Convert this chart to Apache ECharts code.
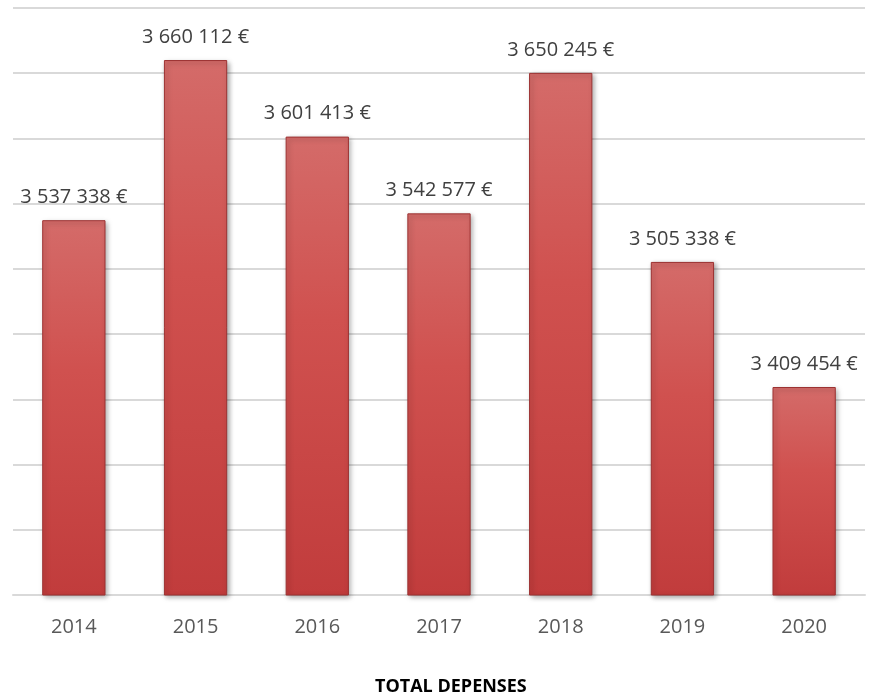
<!DOCTYPE html>
<html>
<head>
<meta charset="utf-8">
<script src="https://cdn.jsdelivr.net/npm/echarts@6/dist/echarts.min.js"></script>
<style>
  html, body { margin: 0; padding: 0; background: #fff; }
  #chart { width: 879px; height: 700px; }
</style>
</head>
<body>
<div id="chart"></div>
<script>
const years = ['2014', '2015', '2016', '2017', '2018', '2019', '2020']
const totals = [3537338, 3660112, 3601413, 3542577, 3650245, 3505338, 3409454]

function euro(v) {
  return String(v).replace(/\B(?=(\d{3})+(?!\d))/g, ' ') + ' €'
}

const chart = echarts.init(document.getElementById('chart'))
chart.setOption({
  animation: false,
  textStyle: { fontFamily: 'Open Sans' },
  title: {
    text: 'TOTAL DEPENSES',
    left: 375,
    top: 678,
    padding: 0,
    textStyle: { fontSize: 18, fontWeight: 'bold', color: '#000' }
  },
  grid: { left: 13, right: 14, top: 8, bottom: 105 },
  xAxis: {
    type: 'category',
    data: years,
    axisLine: { lineStyle: { color: '#d9d9d9', width: 2 } },
    axisTick: { show: false },
    axisLabel: { color: '#595959', fontSize: 20, margin: 22 }
  },
  yAxis: {
    type: 'value',
    min: 3250000,
    max: 3700000,
    interval: 50000,
    axisLabel: { show: false },
    axisLine: { show: false },
    axisTick: { show: false },
    splitLine: { lineStyle: { color: '#d9d9d9', width: 2 } }
  },
  series: [
    {
      type: 'bar',
      data: totals,
      barWidth: '52%',
      itemStyle: {
        color: new echarts.graphic.LinearGradient(0, 0, 0, 1, [
          { offset: 0, color: '#d46b69' },
          { offset: 0.4, color: '#d0514f' },
          { offset: 1, color: '#c13c3c' }
        ]),
        borderColor: '#9c3232',
        borderWidth: 1,
        shadowColor: 'rgba(0,0,0,0.35)',
        shadowBlur: 5,
        shadowOffsetX: 2,
        shadowOffsetY: 2
      },
      label: {
        show: true,
        position: 'top',
        distance: 13,
        color: '#404040',
        fontSize: 20,
        formatter: p => euro(p.value)
      }
    }
  ]
})
</script>
</body>
</html>
